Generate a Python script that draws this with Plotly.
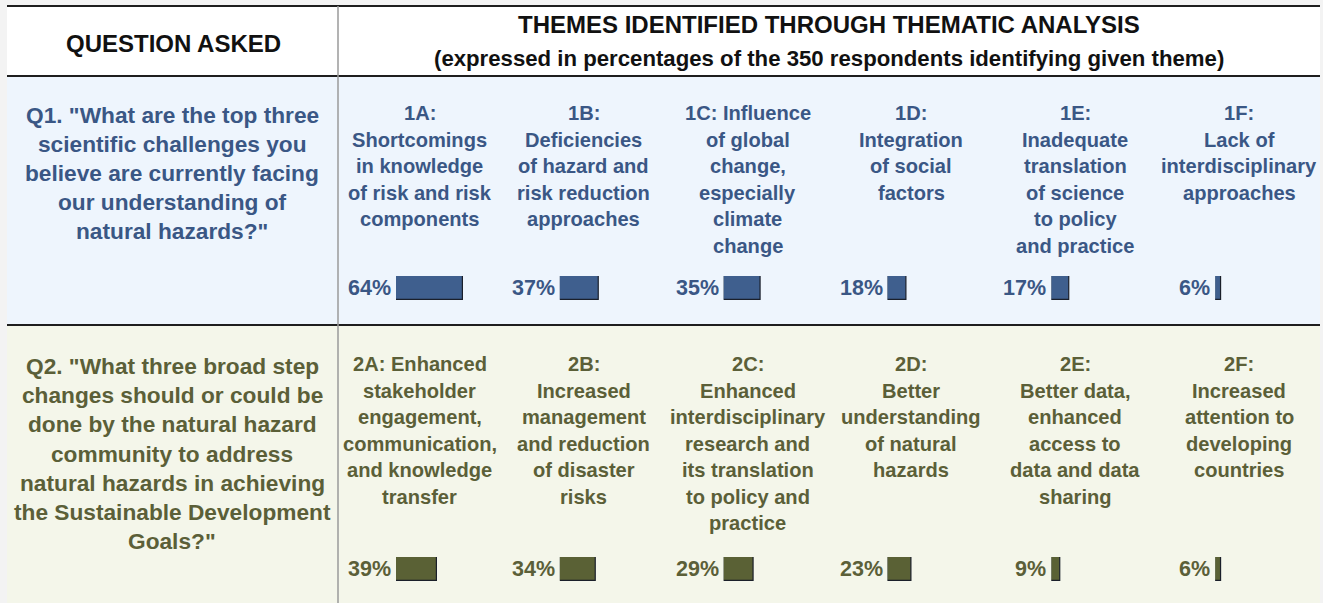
import plotly.graph_objects as go

# ---------------- data ----------------
header_left = "QUESTION ASKED"
header_title = "THEMES IDENTIFIED THROUGH THEMATIC ANALYSIS"
header_sub = "(expressed in percentages of the 350 respondents identifying given theme)"

q1_question = ['Q1. "What are the top three', 'scientific challenges you',
               'believe are currently facing', 'our understanding of',
               'natural hazards?"']
q2_question = ['Q2. "What three broad step', 'changes should or could be',
               'done by the natural hazard', 'community to address',
               'natural hazards in achieving', 'the Sustainable Development',
               'Goals?"']

q1_themes = [
    ["1A:", "Shortcomings", "in knowledge", "of risk and risk", "components"],
    ["1B:", "Deficiencies", "of hazard and", "risk reduction", "approaches"],
    ["1C: Influence", "of global", "change,", "especially", "climate", "change"],
    ["1D:", "Integration", "of social", "factors"],
    ["1E:", "Inadequate", "translation", "of science", "to policy", "and practice"],
    ["1F:", "Lack of", "interdisciplinary", "approaches"],
]
q1_values = [64, 37, 35, 18, 17, 6]

q2_themes = [
    ["2A: Enhanced", "stakeholder", "engagement,", "communication,", "and knowledge", "transfer"],
    ["2B:", "Increased", "management", "and reduction", "of disaster", "risks"],
    ["2C:", "Enhanced", "interdisciplinary", "research and", "its translation", "to policy and", "practice"],
    ["2D:", "Better", "understanding", "of natural", "hazards"],
    ["2E:", "Better data,", "enhanced", "access to", "data and data", "sharing"],
    ["2F:", "Increased", "attention to", "developing", "countries"],
]
q2_values = [39, 34, 29, 23, 9, 6]

# ---------------- styling / layout ----------------
W, H = 1323, 603
FONT = "Liberation Sans, Arial, sans-serif"
NARROW = "Liberation Sans Narrow, Arial Narrow, Liberation Sans, sans-serif"
BLUE_TXT = "#3a5785"
BLUE_BAR = "#3f5f8e"
OLIVE_TXT = "#5b5f38"
OLIVE_BAR = "#5a6135"

X_LEFT, X_RIGHT, X_DIV = 7, 1320, 338
Y_TOP, Y_HDR, Y_SEP = 6, 76, 325
COL_W = (X_RIGHT + 1 - X_DIV) / 6
BAR_OFF = 58
PX_PER_100 = 104.5

def px(x):
    return x / W

def py(y):
    return 1 - y / H

fig = go.Figure()
shapes = []
ann = []

# backgrounds
shapes.append(dict(type="rect", xref="paper", yref="paper", x0=px(X_LEFT), x1=px(X_RIGHT),
                   y0=py(Y_HDR), y1=py(Y_TOP), fillcolor="white", line_width=0, layer="below"))
shapes.append(dict(type="rect", xref="paper", yref="paper", x0=px(X_LEFT), x1=px(X_RIGHT),
                   y0=py(Y_SEP), y1=py(Y_HDR), fillcolor="#eef5fd", line_width=0, layer="below"))
shapes.append(dict(type="rect", xref="paper", yref="paper", x0=px(X_LEFT), x1=px(X_RIGHT),
                   y0=0, y1=py(Y_SEP), fillcolor="#f4f6ea", line_width=0, layer="below"))
# lines
for yy in (Y_TOP, Y_HDR, Y_SEP):
    shapes.append(dict(type="line", xref="paper", yref="paper", x0=px(X_LEFT), x1=px(X_RIGHT),
                       y0=py(yy), y1=py(yy), line=dict(color="#1e1e1e", width=2)))
shapes.append(dict(type="line", xref="paper", yref="paper", x0=px(X_DIV), x1=px(X_DIV),
                   y0=0, y1=py(Y_TOP), line=dict(color="#9a9a9a", width=1.5)))

# header texts
ann.append(dict(text=header_left, x=px(173), y=py(43), font=dict(size=24, color="#111", family=FONT)))
ann.append(dict(text=header_title, x=px(829), y=py(24), font=dict(size=24, color="#111", family=FONT)))
ann.append(dict(text=header_sub, x=px(829), y=py(58), font=dict(size=22.2, color="#111", family=FONT)))

# question texts
for i, line in enumerate(q1_question):
    ann.append(dict(text=line, x=px(172), y=py(115 + 29 * i), font=dict(size=22.7, color=BLUE_TXT, family=FONT)))
for i, line in enumerate(q2_question):
    ann.append(dict(text=line, x=px(172), y=py(366 + 29.2 * i), font=dict(size=22.7, color=OLIVE_TXT, family=FONT)))

# theme texts
rows = [
    dict(themes=q1_themes, values=q1_values, ty0=113, bar_top=276, txt=BLUE_TXT, bar=BLUE_BAR, pfont=FONT, psize=21.5),
    dict(themes=q2_themes, values=q2_values, ty0=364, bar_top=557, txt=OLIVE_TXT, bar=OLIVE_BAR, pfont=NARROW, psize=21.5),
]
layout_axes = {}
for r, row in enumerate(rows):
    yname = "yaxis" if r == 0 else f"yaxis{r + 1}"
    layout_axes[yname] = dict(domain=[py(row["bar_top"] + 24), py(row["bar_top"])], range=[-0.5, 0.5],
                              visible=False, fixedrange=True, anchor="x")
    for c, lines in enumerate(row["themes"]):
        cx = X_DIV + COL_W * (c + 0.5)
        for i, line in enumerate(lines):
            ann.append(dict(text=line, x=px(cx), y=py(row["ty0"] + 26.5 * i),
                            font=dict(size=20.1, color=row["txt"], family=FONT)))

for c in range(6):
    xname = "xaxis" if c == 0 else f"xaxis{c + 1}"
    x0 = X_DIV + COL_W * c + BAR_OFF
    layout_axes[xname] = dict(domain=[px(x0), px(x0 + PX_PER_100)], range=[0, 100],
                              visible=False, fixedrange=True, anchor="y")

for r, row in enumerate(rows):
    yref = "y" if r == 0 else f"y{r + 1}"
    for c, v in enumerate(row["values"]):
        xref = "x" if c == 0 else f"x{c + 1}"
        fig.add_trace(go.Bar(x=[v], y=[0], orientation="h", xaxis=xref, yaxis=yref, width=1,
                             marker=dict(color=row["bar"], line=dict(color="#1a1f2a", width=1.2)),
                             hoverinfo="skip", showlegend=False))
        ann.append(dict(text=f"{v}%", xref=xref, yref=yref, x=0, y=0, xanchor="right", xshift=-3,
                        font=dict(size=row["psize"], color=row["txt"], family=row["pfont"])))

full_ann = []
for a in ann:
    a = dict(a)
    a.setdefault("xref", "paper")
    a.setdefault("yref", "paper")
    a.setdefault("xanchor", "center")
    a.setdefault("yanchor", "middle")
    a["showarrow"] = False
    a["text"] = f"<b>{a['text']}</b>"
    full_ann.append(a)

fig.update_layout(
    width=W, height=H, margin=dict(l=0, r=0, t=0, b=0),
    paper_bgcolor="#f3f3f3", plot_bgcolor="rgba(0,0,0,0)",
    shapes=shapes, annotations=full_ann, barmode="overlay", bargap=0,
    **layout_axes,
)

fig.write_html("out.html", config={"displayModeBar": False},
               post_script="document.body.style.margin='0';document.body.style.overflow='hidden';")
